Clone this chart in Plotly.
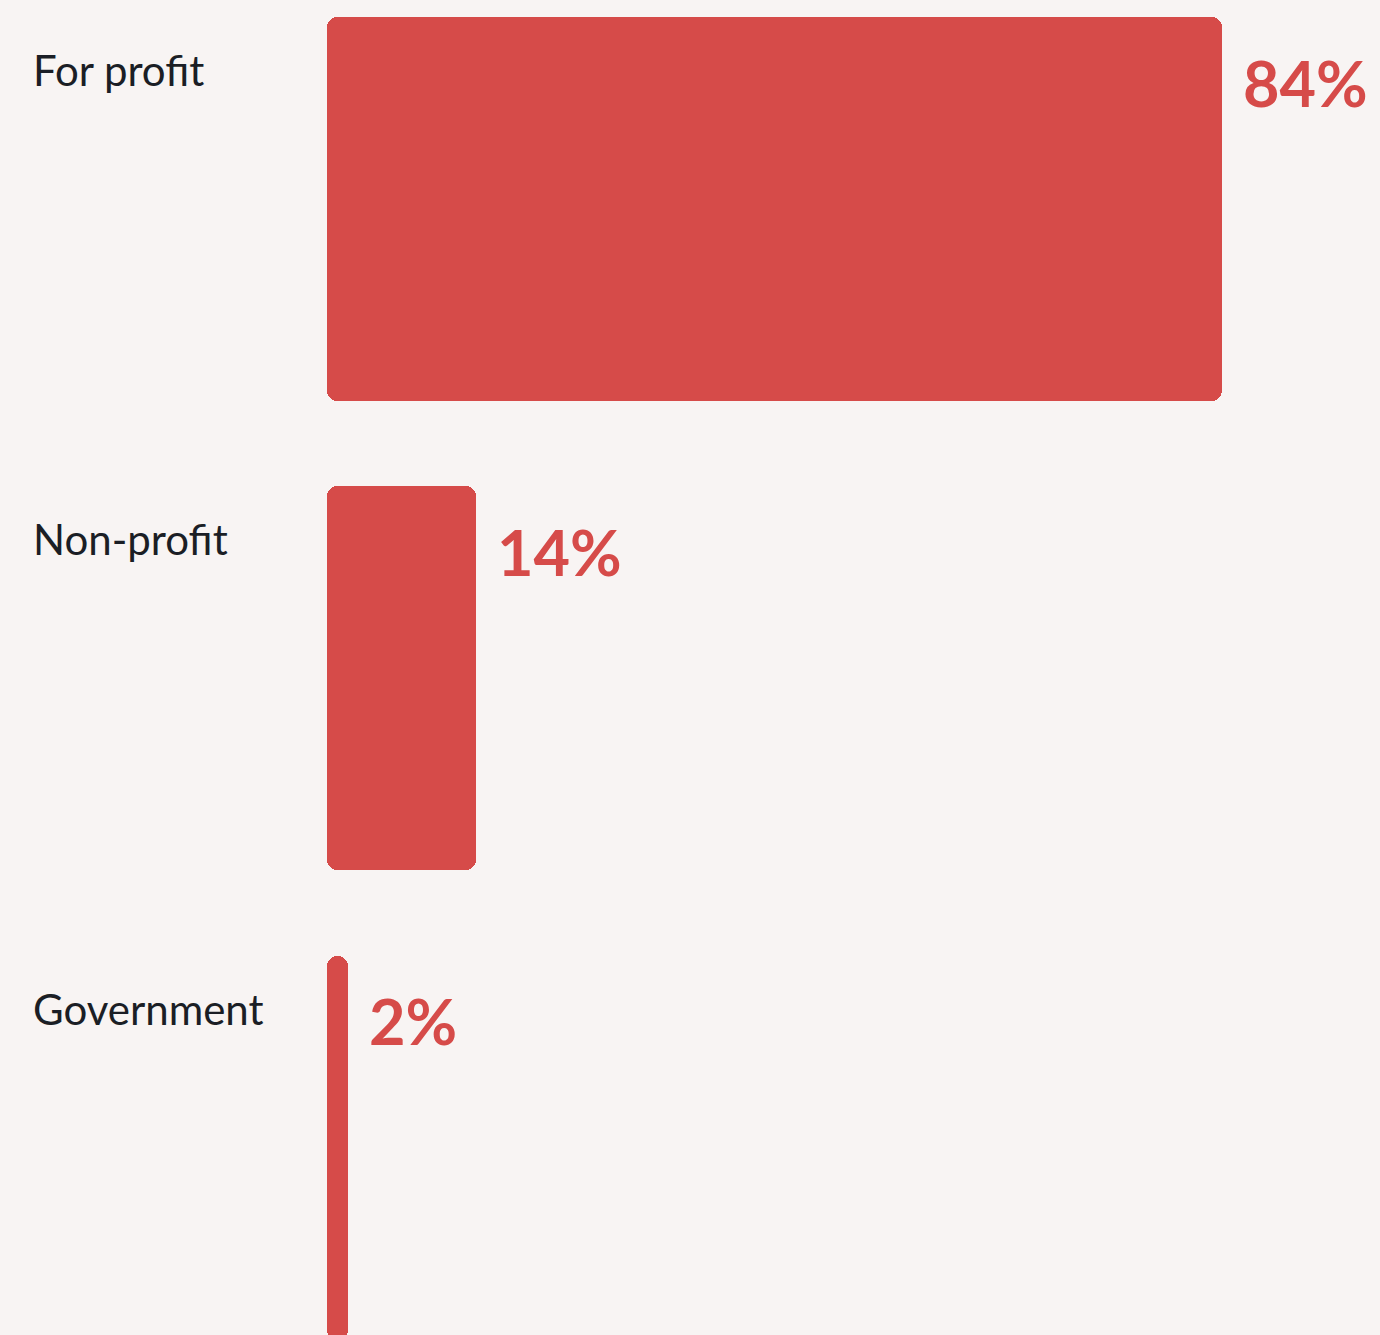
import plotly.graph_objects as go

# Share of organisations by sector (percent)
categories = ["For profit", "Non-profit", "Government"]
values = [84, 14, 2]
value_labels = ["84%", "14%", "2%"]

BAR_COLOR = "#d64b49"
BG_COLOR = "#f8f4f3"
TEXT_COLOR = "#1b1e25"

# Pixel scale: 84 units span 895 px, zero sits 327 px from the left edge
px_per_unit = 895 / 84
x_range = [-327 / px_per_unit, (1380 - 327) / px_per_unit]

# Category spacing ~469 px, first bar centre at 209 px
step = 469.25
y_range = [(1335 - 209) / step, -209 / step]
bar_width = 384 / step

fig = go.Figure()
# An explicit base makes the rounded corners apply to both ends of each bar
fig.add_trace(go.Bar(
    y=categories, x=values, base=[0] * len(values), orientation="h",
    width=bar_width, marker=dict(color=BAR_COLOR, cornerradius=10, line=dict(width=0)),
    hovertemplate="%{y}: %{x}%<extra></extra>", showlegend=False,
))

annotations = []
for cat, val, lab in zip(categories, values, value_labels):
    annotations.append(dict(
        x=val, y=cat, xref="x", yref="y", text=lab, showarrow=False,
        xanchor="left", yanchor="middle", xshift=19, yshift=127,
        font=dict(family="Lato", size=63, color=BAR_COLOR, weight="bold"),
    ))
    annotations.append(dict(
        x=31 / 1380, y=cat, xref="paper", yref="y", text=cat, showarrow=False,
        xanchor="left", yanchor="middle", yshift=139,
        font=dict(family="Lato", size=42, color=TEXT_COLOR),
    ))

fig.update_layout(
    width=1380, height=1335,
    margin=dict(l=0, r=0, t=0, b=0),
    paper_bgcolor=BG_COLOR, plot_bgcolor=BG_COLOR,
    bargap=0,
    xaxis=dict(range=x_range, visible=False, fixedrange=True),
    yaxis=dict(range=y_range, visible=False, fixedrange=True,
               categoryorder="array", categoryarray=categories),
    annotations=annotations,
)

fig.write_html("out.html")
